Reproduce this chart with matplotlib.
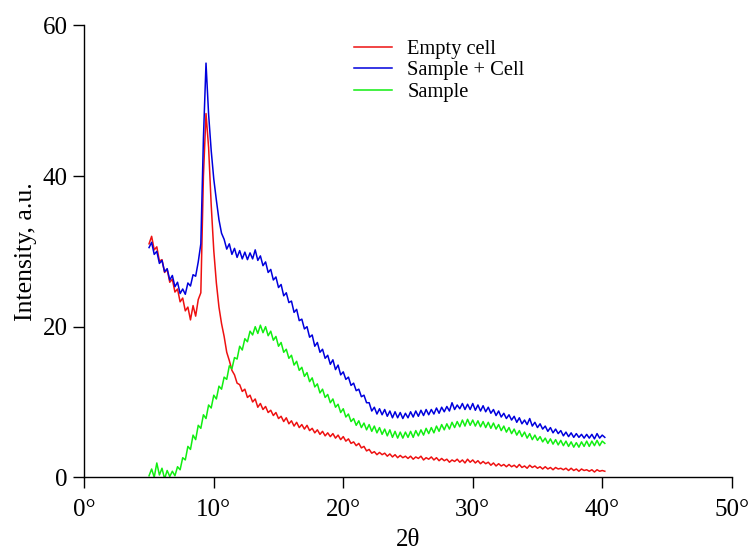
import matplotlib
matplotlib.use("Agg")
import matplotlib.pyplot as plt
import numpy as np

# scan grid: 5.0 .. 40.2 deg, 0.2 deg step
THETA_START = 5.0
THETA_STEP = 0.2

empty_cell = [
    31.0, 32.0, 30.2, 30.6, 28.7, 28.9, 27.2, 27.6, 25.9, 26.3,
    24.6, 25.0, 23.3, 23.8, 22.1, 22.6, 20.9, 22.8, 21.4, 23.6,
    24.5, 40.0, 48.3, 43.8, 36.2, 30.1, 25.8, 22.6, 20.4, 18.7,
    16.6, 15.5, 14.2, 13.6, 12.5, 12.3, 11.4, 11.7, 10.6, 10.9,
    10.0, 10.4, 9.3, 9.8, 9.0, 9.4, 8.6, 8.9, 8.2, 8.6,
    7.8, 8.1, 7.4, 7.9, 7.1, 7.5, 6.8, 7.3, 6.6, 7.0,
    6.4, 6.9, 6.2, 6.5, 5.9, 6.3, 5.7, 6.1, 5.5, 5.9,
    5.4, 5.8, 5.2, 5.6, 5.0, 5.4, 4.8, 5.1, 4.5, 4.7,
    4.2, 4.5, 3.9, 4.1, 3.5, 3.7, 3.2, 3.4, 3.0, 3.3,
    3.0, 3.2, 2.8, 3.1, 2.7, 3.0, 2.6, 2.9, 2.6, 2.8,
    2.5, 2.8, 2.4, 2.7, 2.5, 2.8, 2.3, 2.6, 2.4, 2.7,
    2.3, 2.6, 2.2, 2.5, 2.2, 2.4, 2.0, 2.3, 2.1, 2.4,
    2.0, 2.3, 1.9, 2.4, 2.0, 2.3, 1.9, 2.2, 1.8, 2.1,
    1.8, 2.0, 1.6, 1.9, 1.5, 1.8, 1.5, 1.7, 1.4, 1.7,
    1.4, 1.6, 1.3, 1.7, 1.3, 1.5, 1.2, 1.6, 1.3, 1.5,
    1.2, 1.4, 1.1, 1.4, 1.1, 1.3, 1.0, 1.3, 1.1, 1.2,
    1.0, 1.2, 0.9, 1.2, 0.9, 1.1, 0.8, 1.1, 0.9, 1.0,
    0.8, 1.0, 0.7, 1.0, 0.8, 0.9, 0.8,
]

sample_cell = [
    30.5, 31.2, 29.6, 30.0, 28.4, 28.8, 27.3, 27.7, 26.2, 26.8,
    25.3, 25.9, 24.4, 25.0, 24.3, 25.8, 25.4, 26.9, 26.7, 28.6,
    31.0, 45.0, 55.0, 48.2, 43.4, 39.6, 36.8, 34.2, 32.4, 31.6,
    30.3, 31.0, 29.6, 30.4, 29.2, 30.1, 29.0, 29.9, 28.9, 29.8,
    29.0, 30.2, 28.8, 29.4, 28.1, 28.6, 27.2, 27.6, 26.2, 26.6,
    25.2, 25.6, 24.1, 24.5, 23.2, 23.4, 21.9, 22.3, 20.8, 21.0,
    19.7, 20.0, 18.6, 18.9, 17.4, 17.9, 16.6, 17.0, 15.8, 16.2,
    15.0, 15.6, 14.3, 14.9, 13.6, 14.0, 13.0, 13.3, 12.2, 12.5,
    11.5, 11.7, 10.7, 10.9, 9.9, 9.9, 8.8, 9.3, 8.4, 9.1,
    8.3, 9.0, 8.1, 8.8, 7.9, 8.7, 7.9, 8.6, 7.8, 8.5,
    7.9, 8.7, 8.0, 8.8, 8.1, 8.9, 8.2, 9.0, 8.3, 9.0,
    8.4, 9.2, 8.5, 9.3, 8.7, 9.4, 8.8, 9.9, 9.0, 9.6,
    9.1, 9.8, 9.0, 9.7, 9.0, 9.8, 8.9, 9.6, 8.8, 9.5,
    8.7, 9.3, 8.5, 9.0, 8.2, 8.8, 8.0, 8.5, 7.8, 8.3,
    7.6, 8.1, 7.3, 7.9, 7.1, 7.6, 7.0, 7.8, 6.8, 7.3,
    6.6, 7.1, 6.4, 6.8, 6.1, 6.6, 5.9, 6.4, 5.8, 6.2,
    5.5, 6.0, 5.4, 5.9, 5.3, 5.8, 5.3, 5.7, 5.2, 5.7,
    5.2, 5.7, 5.1, 5.8, 5.2, 5.6, 5.3,
]

sample = [
    0.2, 1.1, 0.0, 1.9, 0.3, 1.2, -0.2, 0.9, 0.1, 0.8,
    0.2, 1.4, 1.0, 2.6, 2.3, 4.1, 3.7, 5.6, 5.0, 6.9,
    6.5, 8.3, 7.8, 9.6, 9.2, 10.9, 10.4, 12.1, 11.7, 13.3,
    13.0, 14.8, 14.4, 15.9, 15.7, 17.4, 16.9, 18.4, 18.0, 19.4,
    18.9, 20.0, 19.1, 20.2, 19.2, 20.0, 18.8, 19.4, 18.2, 18.7,
    17.4, 17.9, 16.6, 17.0, 15.8, 16.2, 14.9, 15.4, 14.2, 14.6,
    13.4, 13.9, 12.7, 13.2, 12.0, 12.4, 11.2, 11.7, 10.6, 11.0,
    9.9, 10.4, 9.3, 9.7, 8.6, 9.1, 8.0, 8.4, 7.4, 7.8,
    6.9, 7.5, 6.6, 7.2, 6.3, 7.0, 6.1, 6.8, 5.9, 6.6,
    5.7, 6.4, 5.5, 6.3, 5.3, 6.1, 5.2, 6.0, 5.2, 6.0,
    5.3, 6.1, 5.3, 6.2, 5.5, 6.3, 5.6, 6.5, 5.8, 6.6,
    5.9, 6.8, 6.1, 7.0, 6.3, 7.1, 6.4, 7.3, 6.6, 7.4,
    6.7, 7.6, 6.8, 7.7, 6.9, 7.6, 6.8, 7.5, 6.7, 7.4,
    6.6, 7.3, 6.5, 7.2, 6.4, 7.0, 6.2, 6.8, 6.0, 6.6,
    5.8, 6.4, 5.6, 6.2, 5.4, 6.0, 5.2, 5.8, 5.0, 5.6,
    4.9, 5.4, 4.7, 5.2, 4.5, 5.1, 4.4, 5.0, 4.3, 4.9,
    4.2, 4.8, 4.1, 4.7, 4.0, 4.6, 4.0, 4.7, 4.1, 4.8,
    4.1, 4.8, 4.2, 4.9, 4.2, 4.8, 4.5,
]

series_labels = ["Empty cell", "Sample + Cell", "Sample"]
x_ticks = [0, 10, 20, 30, 40, 50]
y_ticks = [0, 20, 40, 60]

theta = THETA_START + THETA_STEP * np.arange(len(empty_cell))

plt.rcParams["font.family"] = ["Liberation Serif", "DejaVu Serif"]

fig = plt.figure(figsize=(7.5, 5.51), dpi=100)
ax = fig.add_axes([0.1124, 0.1338, 0.8632, 0.82])

ax.plot(theta, empty_cell, color="#ee1111", lw=1.1, label=series_labels[0])
ax.plot(theta, sample_cell, color="#0000dd", lw=1.1, label=series_labels[1])
ax.plot(theta, sample, color="#11ee11", lw=1.1, label=series_labels[2])

ax.set_xlim(0, 50)
ax.set_ylim(0, 60)
ax.set_xticks(x_ticks)
ax.set_xticklabels([f"{t}°" for t in x_ticks])
ax.set_yticks(y_ticks)

for side in ("top", "right"):
    ax.spines[side].set_visible(False)
for side in ("left", "bottom"):
    ax.spines[side].set_linewidth(1.0)
ax.tick_params(direction="out", length=8, width=1.0, labelsize=18)
ax.tick_params(axis="x", pad=7.5)
ax.tick_params(axis="y", pad=4)

ax.set_xlabel("2θ", fontsize=18, labelpad=6)
ax.set_ylabel("Intensity, a.u.", fontsize=18.5, labelpad=4)

ax.legend(loc="upper left", bbox_to_anchor=(0.388, 1.01), frameon=False,
          fontsize=14.8, handlelength=1.85, handletextpad=0.75, labelspacing=0.1)

fig.savefig("out.png", dpi=100)
